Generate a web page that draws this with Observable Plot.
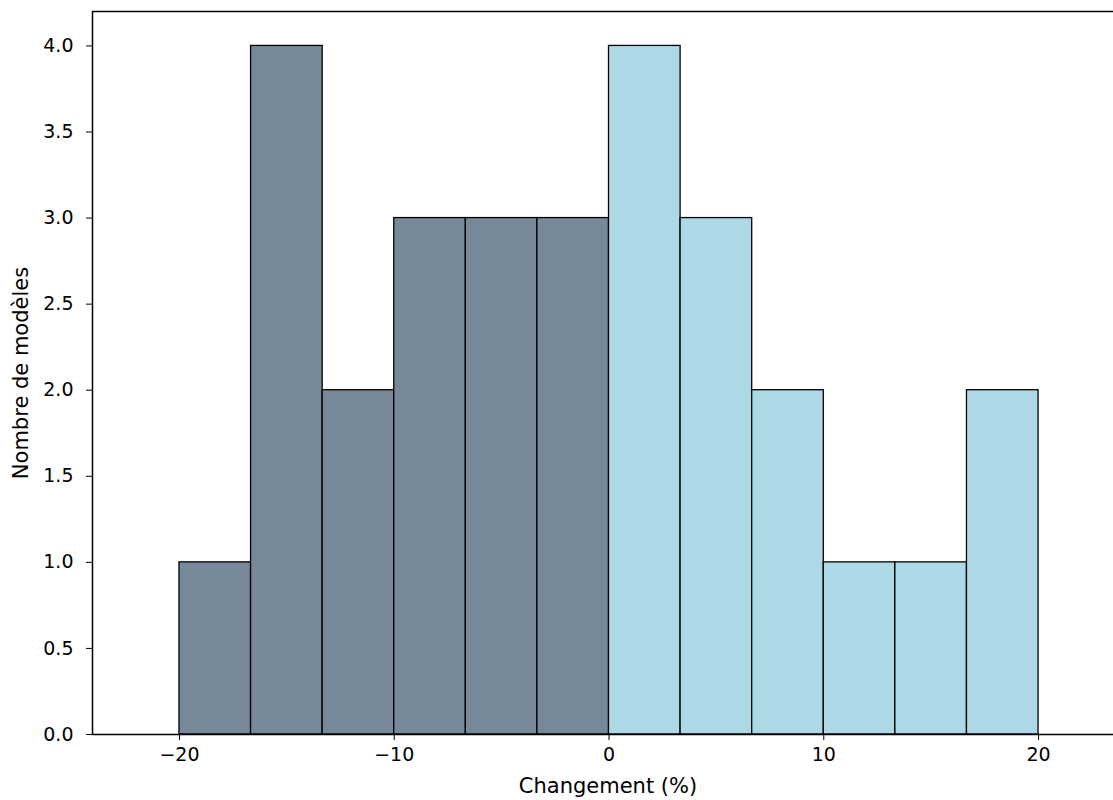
<!DOCTYPE html>
<html>
<head>
<meta charset="utf-8">
<script src="https://cdn.jsdelivr.net/npm/d3@7"></script>
<script src="https://cdn.jsdelivr.net/npm/@observablehq/plot@0.6"></script>
<style>
  html, body { margin: 0; padding: 0; background: #fff; }
  #chart svg { display: block; }
</style>
</head>
<body>
<div id="chart"></div>
<script>
// Histogram bins (edges) and counts
const binStart = [-20, -16.667, -13.333, -10, -6.667, -3.333, 0, 3.333, 6.667, 10, 13.333, 16.667];
const binEnd   = [-16.667, -13.333, -10, -6.667, -3.333, 0, 3.333, 6.667, 10, 13.333, 16.667, 20];
const counts   = [1, 4, 2, 3, 3, 3, 4, 3, 2, 1, 1, 2];
const xTicks = [-20, -10, 0, 10, 20];
const yTicks = [0, 0.5, 1, 1.5, 2, 2.5, 3, 3.5, 4];
const xLabel = "Changement (%)";
const yLabel = "Nombre de modèles";

const bars = counts.map((c, i) => ({x1: binStart[i], x2: binEnd[i], y: c}));
const xDomain = [-24.05, 23.49];
const yDomain = [0, 4.2];

const chart = Plot.plot({
  width: 1113,
  height: 800,
  marginLeft: 92,
  marginRight: 0,
  marginTop: 11,
  marginBottom: 66,
  style: {fontFamily: "DejaVu Sans", fontSize: "19px", color: "#000", background: "#fff"},
  x: {domain: xDomain},
  y: {domain: yDomain},
  marks: [
    Plot.rectY(bars, {
      x1: "x1", x2: "x2", y1: 0, y2: "y",
      fill: d => d.x1 < 0 ? "#778899" : "#add8e6",
      stroke: "#000", strokeWidth: 1.3, inset: 0
    }),
    Plot.ruleY([yDomain[0]], {stroke: "#000", strokeWidth: 1.5}),
    Plot.ruleY([yDomain[1]], {stroke: "#000", strokeWidth: 1.5}),
    Plot.ruleX([xDomain[0]], {stroke: "#000", strokeWidth: 1.5}),
    Plot.axisX({ticks: xTicks, tickSize: 6, tickPadding: 7, fontSize: 19,
      tickFormat: d3.format("d"), label: null}),
    Plot.axisY({ticks: yTicks, tickSize: 6, tickPadding: 13, fontSize: 19,
      tickFormat: d3.format(".1f"), label: null}),
    Plot.text([xLabel], {frameAnchor: "bottom", dy: 58, dx: 5, fontSize: 21, textAnchor: "middle", text: d => d}),
    Plot.text([yLabel], {frameAnchor: "left", dx: -71, rotate: -90, fontSize: 21, textAnchor: "middle", text: d => d})
  ]
});
document.getElementById("chart").appendChild(chart);
</script>
</body>
</html>
